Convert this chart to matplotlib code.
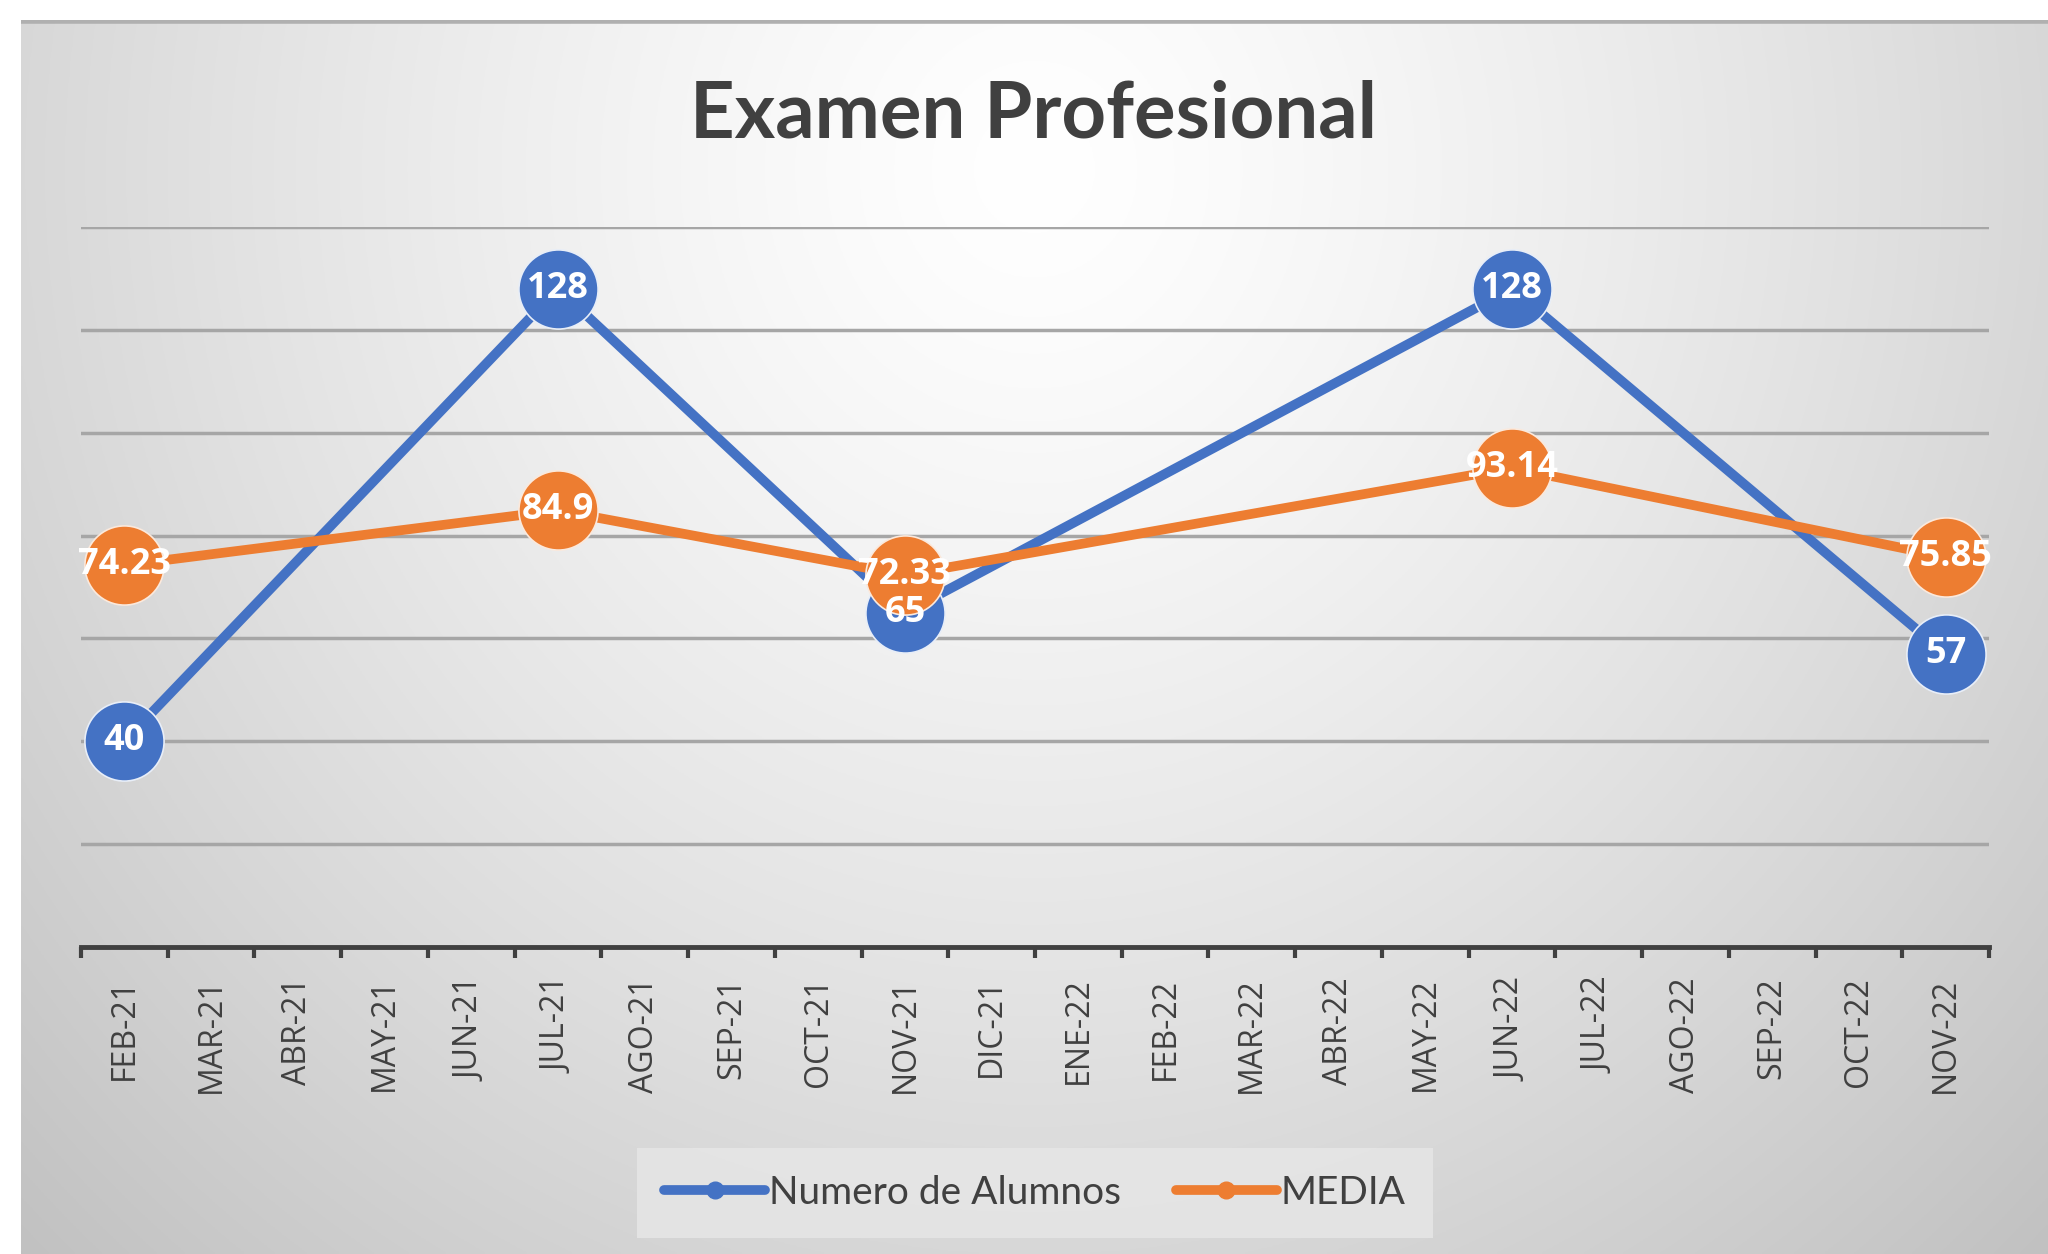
import numpy as np
import matplotlib
matplotlib.use("Agg")
import matplotlib.pyplot as plt
from matplotlib.lines import Line2D

categories = ["FEB-21", "MAR-21", "ABR-21", "MAY-21", "JUN-21", "JUL-21", "AGO-21",
              "SEP-21", "OCT-21", "NOV-21", "DIC-21", "ENE-22", "FEB-22", "MAR-22",
              "ABR-22", "MAY-22", "JUN-22", "JUL-22", "AGO-22", "SEP-22", "OCT-22", "NOV-22"]
point_months = ["FEB-21", "JUL-21", "NOV-21", "JUN-22", "NOV-22"]
alumnos = [40, 128, 65, 128, 57]
media = [74.23, 84.9, 72.33, 93.14, 75.85]
media_labels = ["74.23", "84.9", "72.33", "93.14", "75.85"]

BLUE = "#4472C4"
ORANGE = "#ED7D31"
TXT = "#404040"

W, H = 2048, 1254
fig = plt.figure(figsize=(W / 100, H / 100), dpi=100)
fig.patch.set_facecolor("white")

# gradient background
bg = fig.add_axes([21 / W, 0, 1 - 21 / W, 1 - 20 / H])
ny, nx = 400, 700
yy, xx = np.mgrid[0:1:ny * 1j, 0:1:nx * 1j]
r = np.sqrt(((xx - 0.5) / 0.75) ** 2 + ((yy - 0.12) / 1.3) ** 2)
val = 1.0 - 0.26 * np.clip(r, 0, 1.2) ** 1.3
val = np.clip(val, 0.74, 1.0)
img = np.dstack([val, val, val])
bg.imshow(img, aspect="auto", extent=[0, 1, 0, 1], origin="upper")
bg.axhline(0.999, color="#b0b0b0", lw=4)
bg.set_xlim(0, 1)
bg.set_ylim(0, 1)
bg.axis("off")

ax = fig.add_axes([81 / W, 1 - 947 / H, (1989 - 81) / W, (947 - 227) / H])
ax.patch.set_alpha(0)
ax.set_xlim(-0.5, len(categories) - 0.5)
ax.set_ylim(0, 140)

xpos = [categories.index(m) for m in point_months]

for y in range(20, 141, 20):
    ax.axhline(y, color="#a6a6a6", lw=2.5, zorder=1)

ax.plot(xpos, alumnos, color=BLUE, lw=7, marker="o", ms=57, mfc=BLUE,
        mec="#e8eef8", mew=1.2, zorder=3, solid_capstyle="round")
ax.plot(xpos, media, color=ORANGE, lw=7, marker="o", ms=57, mfc=ORANGE,
        mec="#fbe9dc", mew=1.2, zorder=4, solid_capstyle="round")

for x, v in zip(xpos, alumnos):
    ax.text(x, v, str(v), color="white", fontsize=26, fontweight="bold",
            ha="center", va="center", zorder=6, family="Open Sans")
for x, v, s in zip(xpos, media, media_labels):
    ax.text(x, v, s, color="white", fontsize=26, fontweight="bold",
            ha="center", va="center", zorder=7, family="Open Sans")

for s in ["top", "right", "left"]:
    ax.spines[s].set_visible(False)
ax.spines["bottom"].set_color(TXT)
ax.spines["bottom"].set_linewidth(3.5)
ax.set_yticks([])

ax.set_xticks(np.arange(-0.5, len(categories), 1.0))
ax.set_xticklabels([])
ax.tick_params(axis="x", which="major", length=8, width=3, color=TXT, direction="out")
ax.set_xticks(range(len(categories)), categories, minor=True)
ax.tick_params(axis="x", which="minor", length=0, pad=22, labelsize=23,
               labelcolor=TXT, labelrotation=90)
for lbl in ax.get_xticklabels(minor=True):
    lbl.set_family("Open Sans")

fig.text(1034 / W, 1 - 115 / H, "Examen Profesional", ha="center", va="center",
         fontsize=56, fontweight="bold", color=TXT, family="Lato")

handles = [
    Line2D([0], [0], color=BLUE, lw=7, marker="o", ms=12, solid_capstyle="round"),
    Line2D([0], [0], color=ORANGE, lw=7, marker="o", ms=12, solid_capstyle="round"),
]
leg = fig.legend(handles, ["Numero de Alumnos", "MEDIA"], loc="center",
                 bbox_to_anchor=(1035 / W, 1 - 1193 / H), ncol=2, frameon=True,
                 handlelength=2.6, handletextpad=0.1, columnspacing=1.4,
                 borderpad=0.7, fancybox=False, prop={"family": "Lato", "size": 28})
leg.get_frame().set_facecolor("#e6e6e6")
leg.get_frame().set_edgecolor("none")
leg.get_frame().set_alpha(0.85)
for t in leg.get_texts():
    t.set_color(TXT)

fig.savefig("out.png", dpi=100)
